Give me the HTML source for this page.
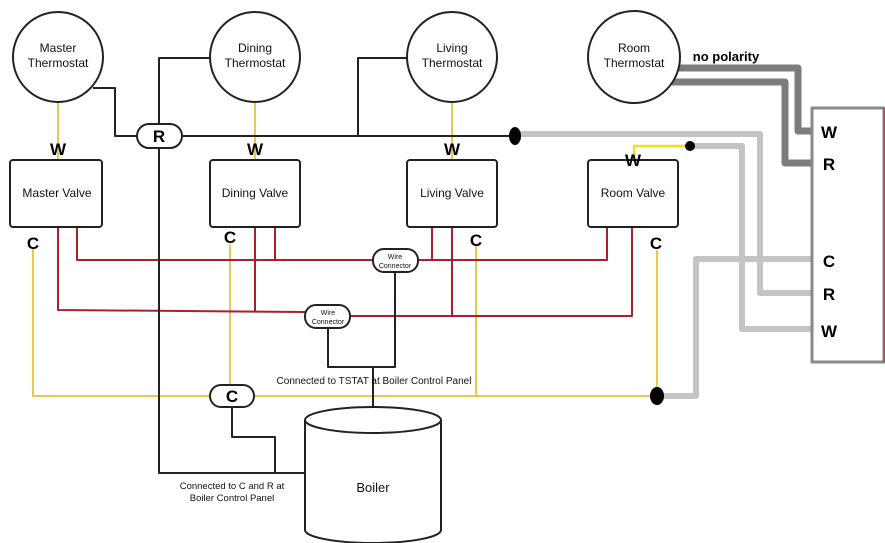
<!DOCTYPE html>
<html><head><meta charset="utf-8"><style>
html,body{margin:0;padding:0;background:#fff;}
svg{display:block;font-family:"Liberation Sans",sans-serif;}
</style></head><body>
<svg width="885" height="543" viewBox="0 0 885 543" xmlns="http://www.w3.org/2000/svg">
<g fill="none" stroke-linejoin="round">
<!-- gray thick wires to panel -->
<g stroke="#c4c4c4" stroke-width="6">
<polyline points="515,134 760,134 760,293 812,293"/>
<polyline points="690,146 742,146 742,329 812,329"/>
<polyline points="657,396 696,396 696,259 812,259"/>
</g>
<g stroke="#7c7c7c" stroke-width="7">
<polyline points="674,68 798,68 798,131 812,131"/>
<polyline points="672,82 785,82 785,163 812,163"/>
</g>
<rect x="812" y="108" width="72" height="254" stroke="#8a8a8a" stroke-width="3"/>
<line x1="884" y1="108" x2="884" y2="362" stroke="#c04050" stroke-width="1.5"/>
<!-- yellow wires -->
<g stroke="#e8c850" stroke-width="2">
<line x1="58" y1="102" x2="58" y2="160"/>
<line x1="255" y1="102" x2="255" y2="160"/>
<line x1="452" y1="102" x2="452" y2="160"/>
<polyline points="33,248 33,396 657,396"/>
<line x1="230" y1="244" x2="230" y2="385"/>
<line x1="476" y1="246" x2="476" y2="396"/>
<line x1="657" y1="250" x2="657" y2="396"/>
</g>
<polyline points="634,156 634,146 690,146" stroke="#f0e020" stroke-width="2.5"/>
<!-- red wires -->
<g stroke="#a8202c" stroke-width="2">
<polyline points="77,227 77,260 373,260"/>
<line x1="275" y1="227" x2="275" y2="260"/>
<polyline points="418,260 607,260 607,227"/>
<line x1="432" y1="227" x2="432" y2="260"/>
<polyline points="58,227 58,310 305,312"/>
<polyline points="255,227 255,312"/>
<polyline points="350,316 632,316 632,227"/>
<line x1="452" y1="227" x2="452" y2="316"/>
</g>
<!-- black wires -->
<g stroke="#222" stroke-width="2">
<polyline points="93,88 115,88 115,136 137,136"/>
<line x1="182" y1="136" x2="515" y2="136"/>
<polyline points="211,58 159,58 159,473 305,473"/>
<polyline points="407,58 358,58 358,136"/>
<polyline points="232,407 232,437 275,437 275,473"/>
<polyline points="328,328 328,367 395,367 395,272"/>
<line x1="373" y1="367" x2="373" y2="416"/>
</g>
<!-- circles -->
<g stroke="#222" stroke-width="2" fill="#fff">
<circle cx="58" cy="57" r="45"/>
<circle cx="255" cy="57" r="45"/>
<circle cx="452" cy="57" r="45"/>
<circle cx="634" cy="57" r="46"/>
<rect x="10" y="160" width="92" height="67" rx="3"/>
<rect x="210" y="160" width="90" height="67" rx="3"/>
<rect x="407" y="160" width="90" height="67" rx="3"/>
<rect x="588" y="160" width="90" height="67" rx="3"/>
<rect x="137" y="124" width="45" height="24" rx="12"/>
<rect x="210" y="385" width="44" height="22" rx="11"/>
<rect x="373" y="249" width="45" height="23" rx="11"/>
<rect x="305" y="305" width="45" height="23" rx="11"/>
<path d="M305,420 L305,530 A68,13 0 0 0 441,530 L441,420"/>
<ellipse cx="373" cy="420" rx="68" ry="13"/>
</g>
<g fill="#000">
<ellipse cx="515" cy="136" rx="6" ry="9"/>
<circle cx="690" cy="146" r="5"/>
<ellipse cx="657" cy="396" rx="7" ry="9"/>
</g>
</g>
<g fill="#111" font-size="12" text-anchor="middle">
<text x="58" y="52">Master</text><text x="58" y="67">Thermostat</text>
<text x="255" y="52">Dining</text><text x="255" y="67">Thermostat</text>
<text x="452" y="52">Living</text><text x="452" y="67">Thermostat</text>
<text x="634" y="52">Room</text><text x="634" y="67">Thermostat</text>
<text x="57" y="197">Master Valve</text>
<text x="255" y="197">Dining Valve</text>
<text x="452" y="197">Living Valve</text>
<text x="633" y="197">Room Valve</text>
<text x="373" y="492" font-size="13">Boiler</text>
<text x="374" y="384" font-size="10">Connected to TSTAT at Boiler Control Panel</text>
<text x="232" y="489" font-size="9.5">Connected to C and R at</text>
<text x="232" y="501" font-size="9.5">Boiler Control Panel</text>
<text x="395" y="259" font-size="7">Wire</text><text x="395" y="268" font-size="7">Connector</text>
<text x="328" y="315" font-size="7">Wire</text><text x="328" y="324" font-size="7">Connector</text>
</g>
<g fill="#000" font-size="17" font-weight="bold" text-anchor="middle">
<text x="58" y="155">W</text><text x="255" y="155">W</text><text x="452" y="155">W</text><text x="633" y="166">W</text>
<text x="159" y="142">R</text><text x="232" y="402">C</text>
<text x="33" y="249">C</text><text x="230" y="243">C</text><text x="476" y="246">C</text><text x="656" y="249">C</text>
<text x="829" y="138">W</text><text x="829" y="170">R</text>
<text x="829" y="267">C</text><text x="829" y="300">R</text><text x="829" y="337">W</text>
<text x="726" y="61" font-size="13">no polarity</text>
</g>
</svg>
</body></html>
